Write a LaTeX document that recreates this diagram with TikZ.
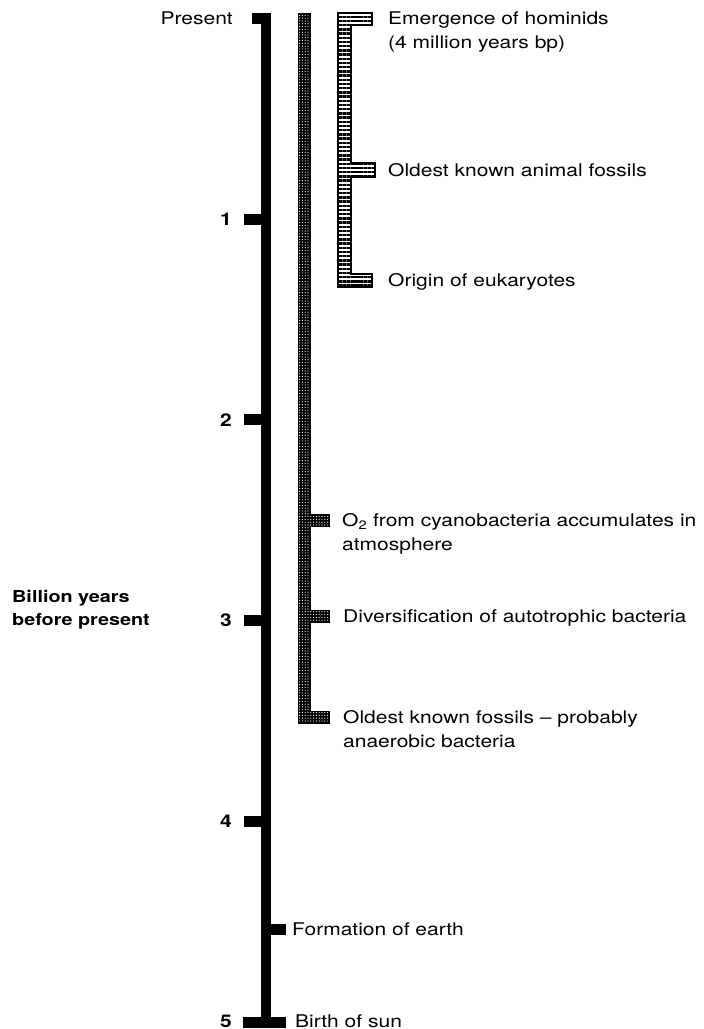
\documentclass[tikz,border=0pt]{standalone}
\usepackage{fontspec}
\setmainfont{TeX Gyre Heros}[FakeStretch=1.2]
\usepackage{tikz}
\usetikzlibrary{patterns.meta}

\tikzset{
  lbl/.style={anchor=base west, align=left, inner sep=0pt, font=\fontsize{17.5}{24}\selectfont},
  axislbl/.style={anchor=base west, align=left, inner sep=0pt, font=\fontsize{16.5}{23}\selectfont\bfseries},
  num/.style={anchor=east, inner sep=0pt, font=\fontsize{17.5}{20}\selectfont\bfseries},
  stipple/.style={preaction={fill=black}, pattern={Dots[distance=2.8pt, radius=0.6pt]}, pattern color=white, draw=black, line width=1pt},
  stripes/.style={fill=white, postaction={pattern={Lines[angle=0, distance=4.2pt, line width=2.4pt]}}, draw=black, line width=1.3pt}
}

\begin{document}
\begin{tikzpicture}[x=1pt,y=-1pt]
  \useasboundingbox (0,0) rectangle (704,1029);

  \fill (261,13) rectangle (271,1028);
  \fill (252,13) rectangle (271,24);
  \node[anchor=east, inner sep=0pt, font=\fontsize{17.5}{20}\selectfont] (present) at (233,18.5) {Present};
  \foreach \g in {1,...,4}{
    \fill (244,{18.5+200.7*\g-5.5}) rectangle (262,{18.5+200.7*\g+5.5});
    \node[num] (num\g) at (232,{18.5+200.7*\g}) {\g};
  }
  \fill (243,1017) rectangle (286,1028);
  \node[num] (num5) at (232,1021) {5};
  \fill (270,924) rectangle (286,935);
  \node[axislbl] (axis) at (12,625) {Billion years\\before present};

  \path[stipple] (298,13) -- (310,13) -- (310,514) -- (329,514) -- (329,526) -- (310,526)
    -- (310,610) -- (329,610) -- (329,622) -- (310,622) -- (310,711) -- (329,711)
    -- (329,723) -- (298,723) -- cycle;
  \path[stripes] (338,13) -- (372,13) -- (372,25) -- (351,25) -- (351,163) -- (375,163)
    -- (375,177) -- (351,177) -- (351,274) -- (372,274) -- (372,287) -- (338,287) -- cycle;

  \node[lbl] (hominids) at (388,48.8) {Emergence of hominids\\(4 million years bp)};
  \node[lbl] (animals) at (388,176.3) {Oldest known animal fossils};
  \node[lbl] (eukaryotes) at (388,286.3) {Origin of eukaryotes};
  \node[lbl] (oxygen) at (342,550.3) {O\textsubscript{2} from cyanobacteria accumulates in\\atmosphere};
  \node[lbl] (autotrophs) at (343,622.3) {Diversification of autotrophic bacteria};
  \node[lbl] (fossils) at (343,747.3) {Oldest known fossils -- probably\\anaerobic bacteria};
  \node[lbl] (earth) at (292,935.8) {Formation of earth};
  \node[lbl] (sun) at (295,1027) {Birth of sun};
\end{tikzpicture}
\end{document}
